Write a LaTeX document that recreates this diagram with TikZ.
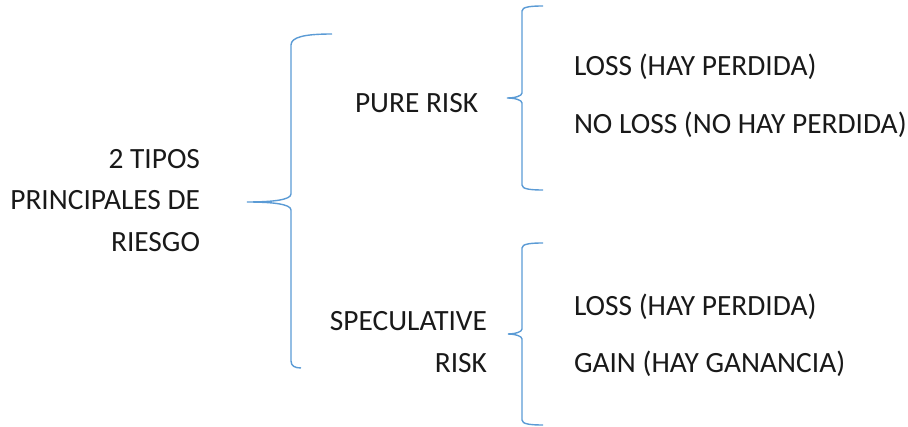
\documentclass[tikz,border=0pt]{standalone}
\usepackage{fontspec}
\setmainfont{Carlito}
\begin{document}
\begin{tikzpicture}[x=1pt,y=-1pt,
  lbl/.style={inner sep=0pt,outer sep=0pt,font=\fontsize{29.4}{41.5}\selectfont,text=black!90},
  brace/.style={draw=bracecol,line width=1.4pt}]
\definecolor{bracecol}{HTML}{5B9BD5}
\useasboundingbox (0,0) rectangle (908,427);
% left title
\node[lbl,anchor=base east] (t1) at (200,169) {2 TIPOS};
\node[lbl,anchor=base east] (t2) at (200,210) {PRINCIPALES DE};
\node[lbl,anchor=base east] (t3) at (200,252) {RIESGO};
% middle
\node[lbl,anchor=base west] (pure) at (355,113) {PURE RISK};
\node[lbl,anchor=base east] (spec1) at (487,331) {SPECULATIVE};
\node[lbl,anchor=base east] (spec2) at (487,373) {RISK};
% right
\node[lbl,anchor=base west] (r1) at (574,76) {LOSS (HAY PERDIDA)};
\node[lbl,anchor=base west] (r2) at (574,134) {NO LOSS (NO HAY PERDIDA)};
\node[lbl,anchor=base west] (r3) at (574,316) {LOSS (HAY PERDIDA)};
\node[lbl,anchor=base west] (r4) at (574,373) {GAIN (HAY GANANCIA)};
% big brace
\draw[brace] (332,34) .. controls (305,34) and (291,37) .. (291,45) -- (291,194)
  .. controls (291,200) and (272,202) .. (247,202)
  .. controls (272,202) and (291,204) .. (291,210) -- (291,361)
  .. controls (291,366) and (295,368) .. (301,368);
% upper small brace
\draw[brace] (543,6) .. controls (530,6) and (522,7) .. (522,11) -- (522,93)
  .. controls (522,96) and (515,98) .. (507,98)
  .. controls (515,98) and (522,100) .. (522,103) -- (522,185)
  .. controls (522,189) and (530,190) .. (543,190);
% lower small brace
\draw[brace] (543,243) .. controls (530,243) and (522,244) .. (522,248) -- (522,329)
  .. controls (522,332) and (515,334) .. (508,334)
  .. controls (515,334) and (522,336) .. (522,339) -- (522,420)
  .. controls (522,424) and (530,425) .. (543,425);
\end{tikzpicture}
\end{document}
